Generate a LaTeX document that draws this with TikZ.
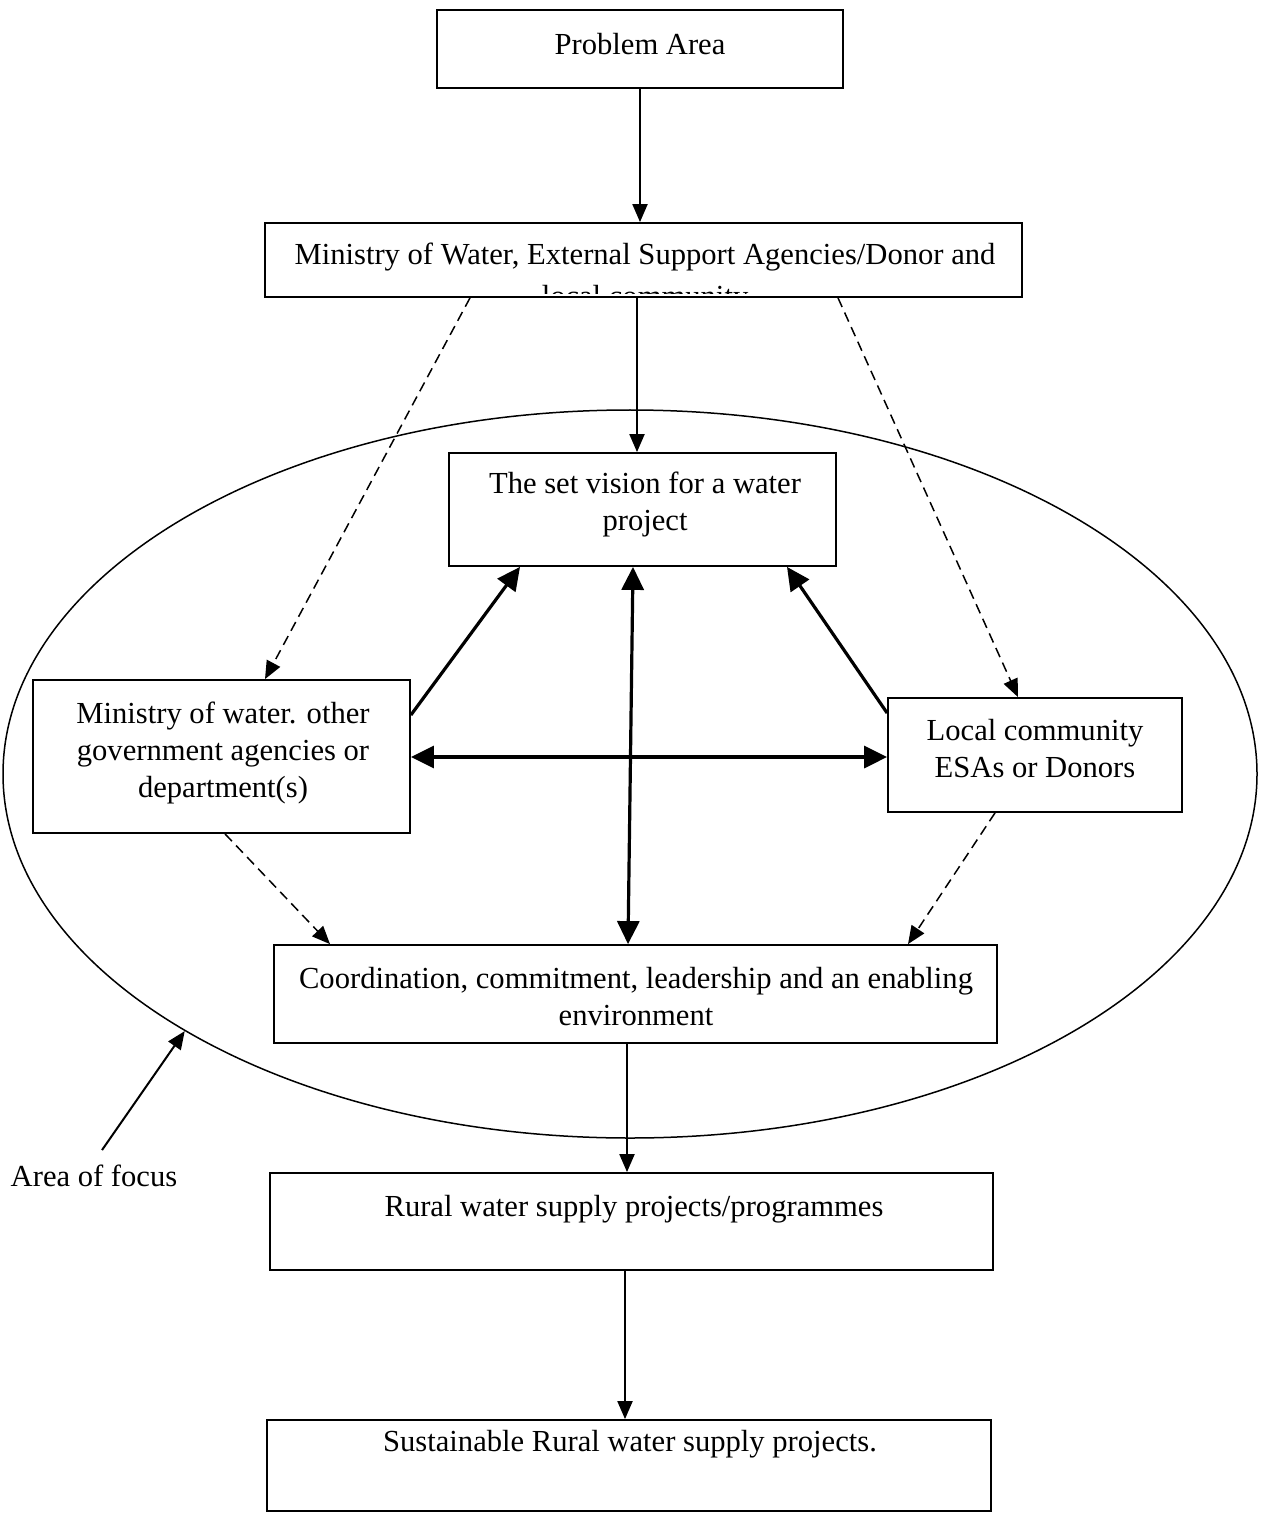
\documentclass[tikz,border=0pt]{standalone}
\usepackage{fontspec}
\setmainfont{Liberation Serif}
\usetikzlibrary{arrows.meta,shapes.geometric}
\begin{document}
\begin{tikzpicture}[x=0.5pt,y=-0.5pt,
  box/.style={draw,line width=0.9pt,rectangle,inner sep=0pt},
  txt/.style={anchor=base,inner sep=0pt,font=\fontsize{15.3}{18.5}\selectfont},
  thinarrow/.style={line width=1pt,-{Triangle[length=9pt,width=7.5pt]}},
  dasharrow/.style={line width=0.75pt,dash pattern=on 5pt off 3pt,-{Triangle[length=9pt,width=7.5pt]}},
  thickarrow/.style={line width=1.6pt,-{Triangle[length=11.5pt,width=11pt]}},
  thickdouble/.style={line width=1.6pt,{Triangle[length=11.5pt,width=11pt]}-{Triangle[length=11.5pt,width=11pt]}}]
\useasboundingbox (0,0) rectangle (1265,1513);
% ellipse: area of focus
\node[draw,ellipse,line width=0.75pt,minimum width=627pt,minimum height=364pt,inner sep=0pt] (focus) at (630,774) {};
% boxes
\node[box,minimum width=203pt,minimum height=39pt] (prob) at (640,49) {};
\node[box,minimum width=378.5pt,minimum height=37pt] (min) at (643.5,260) {};
\node[box,minimum width=193.5pt,minimum height=56.5pt] (vis) at (642.5,509.5) {};
\node[box,minimum width=188.5pt,minimum height=76.5pt] (left) at (221.5,756.5) {};
\node[box,minimum width=147pt,minimum height=57pt] (right) at (1035,755) {};
\node[box,minimum width=361.5pt,minimum height=49pt] (coord) at (635.5,994) {};
\node[box,minimum width=361.5pt,minimum height=48.5pt] (rural) at (631.5,1221.5) {};
\node[box,minimum width=362pt,minimum height=45.5pt] (sust) at (629,1465.5) {};
% texts
\node[txt] (tprob) at (640,55) {Problem Area};
\node[txt] (tmin1) at (645,265) {Ministry of Water, External Support Agencies/Donor and};
\begin{scope}
\clip (265,223) rectangle (1022,294);
\node[txt] (tmin2) at (645,307) {local community};
\end{scope}
\node[txt] (tvis1) at (645,493) {The set vision for a water};
\node[txt] (tvis2) at (645,530) {project};
\node[txt] (tleft1) at (223,723) {Ministry of water. other};
\node[txt] (tleft2) at (223,760) {government agencies or};
\node[txt] (tleft3) at (223,797) {department(s)};
\node[txt] (tright1) at (1035,740) {Local community};
\node[txt] (tright2) at (1035,777) {ESAs or Donors};
\node[txt] (tcoord1) at (636,988) {Coordination, commitment, leadership and an enabling};
\node[txt] (tcoord2) at (636,1025) {environment};
\node[txt] (trural) at (634,1216) {Rural water supply projects/programmes};
\node[txt] (tsust) at (630,1451) {Sustainable Rural water supply projects.};
\node[txt] (aof) at (94,1186) {Area of focus};
% connectors
\draw[thinarrow] (prob.south) -- (prob.south |- min.north);
\draw[thinarrow] (min.south -| 637,0) -- (vis.north -| 637,0);
\draw[dasharrow] (min.south -| 470,0) -- (left.north -| 265,0);
\draw[dasharrow] (min.south -| 838,0) -- (right.north -| 1018,0);
\draw[thickarrow] (left.east |- 0,715) -- (vis.south -| 520,0);
\draw[thickarrow] (right.west |- 0,713) -- (vis.south -| 787,0);
\draw[thickdouble] (left.east |- 0,757) -- (right.west |- 0,757);
\draw[thickdouble] (vis.south -| 633,0) -- (coord.north -| 628,0);
\draw[dasharrow] (left.south -| 225,0) -- (coord.north -| 330,0);
\draw[dasharrow] (right.south -| 995,0) -- (coord.north -| 908,0);
\draw[thinarrow] (coord.south -| 627,0) -- (rural.north -| 627,0);
\draw[thinarrow] (rural.south -| 625,0) -- (sust.north -| 625,0);
\draw[line width=1pt,-{Triangle[length=9pt,width=7.5pt]}] ([shift={(4pt,7pt)}]aof.north) -- (focus.210);
\end{tikzpicture}
\end{document}
